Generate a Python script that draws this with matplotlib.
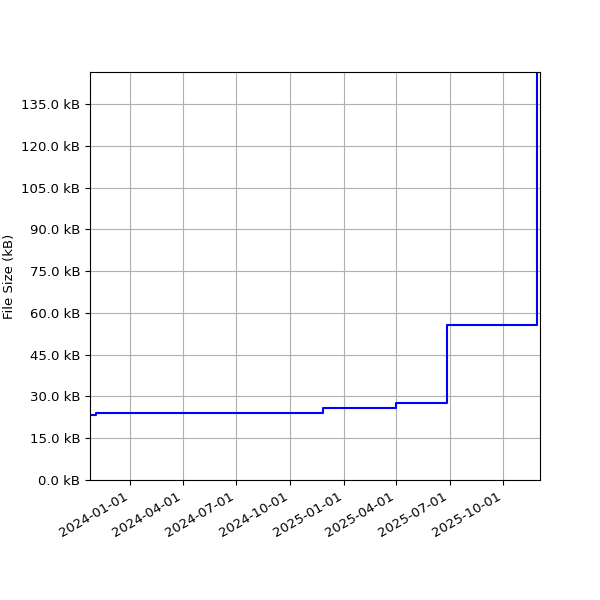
import matplotlib
matplotlib.use("Agg")
import matplotlib.pyplot as plt
import matplotlib.dates as mdates
from matplotlib.ticker import FuncFormatter, MultipleLocator
import numpy as np

dates = ["2023-10-24", "2023-11-03", "2024-11-27", "2025-04-01", "2025-06-26", "2025-11-28", "2025-12-03"]
sizes_kb = [23.5, 24.1, 25.9, 27.8, 55.7, 150.0, 150.0]
tick_dates = ["2024-01-01", "2024-04-01", "2024-07-01", "2024-10-01",
              "2025-01-01", "2025-04-01", "2025-07-01", "2025-10-01"]

plt.rcParams["font.size"] = 9.5

x = np.array(dates, dtype="datetime64[D]")
fig, ax = plt.subplots(figsize=(6, 6), dpi=100)
ax.step(x, sizes_kb, where="post", color="blue", linewidth=1.5)
ax.set_xlim(x[0], x[-1])
ax.set_ylim(0, 146.5)
ax.yaxis.set_major_locator(MultipleLocator(15))
ax.yaxis.set_major_formatter(FuncFormatter(lambda v, p: f"{v:.1f} kB"))
ax.set_xticks(np.array(tick_dates, dtype="datetime64[D]"))
ax.xaxis.set_major_formatter(mdates.DateFormatter("%Y-%m-%d"))
ax.set_ylabel("File Size (kB)")
ax.grid(True, color="#b0b0b0")
fig.autofmt_xdate()
fig.subplots_adjust(left=0.15, right=0.9, top=0.88, bottom=0.2)
fig.savefig("out.png")
